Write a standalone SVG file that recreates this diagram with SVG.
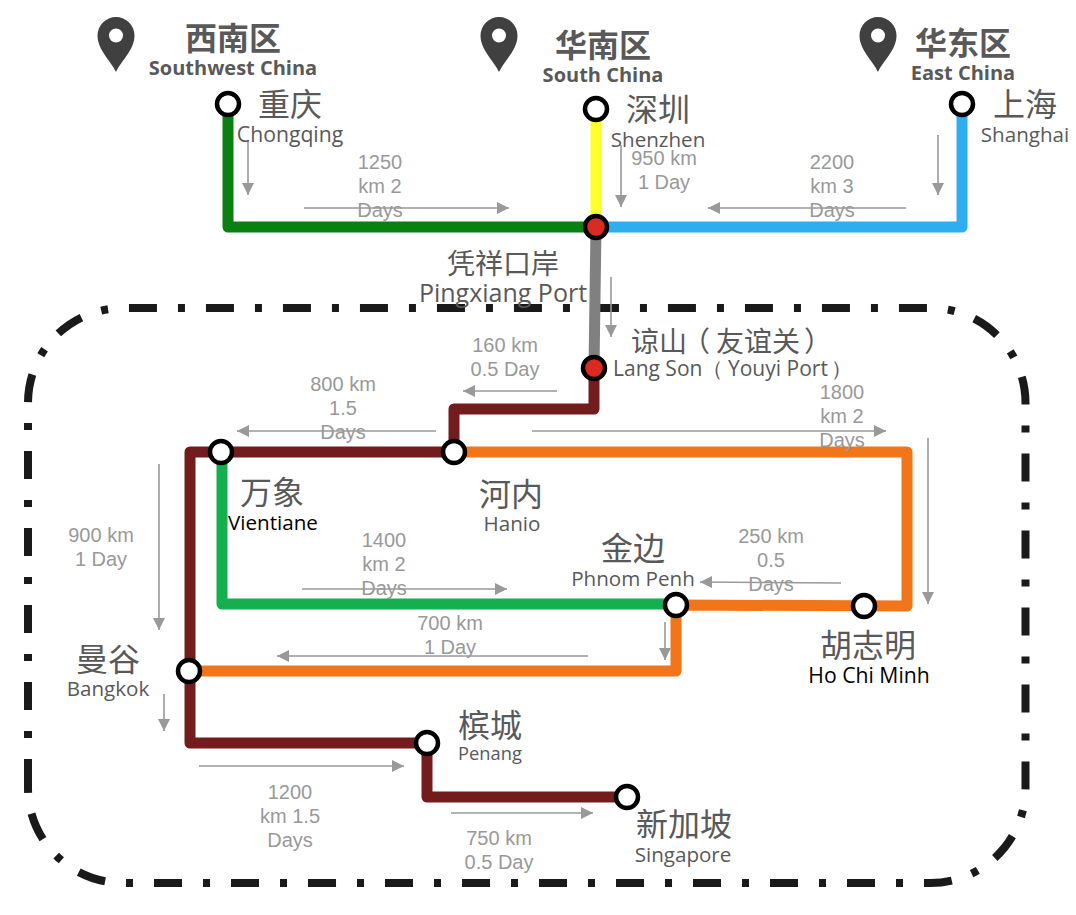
<svg xmlns="http://www.w3.org/2000/svg" width="1076" height="915" viewBox="0 0 1076 915">
<style>
text{text-anchor:middle}
.cn{font-family:"Noto Sans CJK SC","Noto Sans",sans-serif;font-size:32px;fill:#595959}
.c28{font-size:28px}
.h{font-family:"Noto Sans CJK SC","Noto Sans",sans-serif;font-size:32px;font-weight:700;fill:#595959}
.hs{font-family:"Open Sans","Noto Sans",sans-serif;font-size:20px;font-weight:700;fill:#595959}
.en{font-family:"Open Sans","Noto Sans",sans-serif;font-size:20.600px;fill:#595959}
.k{fill:#000}
.d{font-family:"Liberation Sans",Arial,sans-serif;font-size:20px;fill:#999}
.l{fill:none;stroke-width:11;stroke-linejoin:round;stroke-linecap:round}
.a{fill:none;stroke:#999;stroke-width:1.6;marker-end:url(#ah)}
.n{fill:#fff;stroke:#000;stroke-width:4.5}
.r{fill:#dc2a22;stroke:#000;stroke-width:4.5}
.pin{fill:#404040;fill-rule:evenodd}
</style>
<defs>
<marker id="ah" markerUnits="userSpaceOnUse" markerWidth="13" markerHeight="13" refX="12" refY="6" orient="auto"><path d="M0 0L12 6L0 12Z" fill="#999"/></marker>
<path id="p" class="pin" d="M0 55C-5 44-18.500 33-18.500 18.500A18.500 18.500 0 0 1 18.500 18.500C18.500 33 5 44 0 55ZM0 11.500A7 7 0 1 0 0 25.500A7 7 0 1 0 0 11.500Z"/>
</defs>
<path id="boundary" d="M28 786V788A95 95 0 0 0 123 883H930.500A95 95 0 0 0 1025.500 788V403A95 95 0 0 0 930.500 308H123A95 95 0 0 0 28 403V788" fill="none" stroke="#1a1a1a" stroke-width="8" stroke-dasharray="7 21 28 21"/>
<g id="connectors">
<path class="l" stroke="#0a7f12" d="M228 110V227H596"/>
<path class="l" stroke="#ffff29" d="M596 115V227"/>
<path class="l" stroke="#2faeef" d="M962 110V227H596"/>
<path class="l" stroke="#808080" stroke-linecap="butt" d="M596 227L594 368"/>
<path class="l" stroke="#721c1e" d="M594 368V409H454V452H190V743H427V797H627"/>
<path class="l" stroke="#f2751a" d="M454 452H907V606L676 605V671H189"/>
<path class="l" stroke="#14b050" d="M222 452V604H676"/>
<path class="a" d="M248 140V195"/>
<path class="a" d="M304 208H509"/>
<path class="a" d="M621 145V207"/>
<path class="a" d="M906 208H708"/>
<path class="a" d="M938 135V195"/>
<path class="a" d="M611 277V337"/>
<path class="a" d="M557 391H463"/>
<path class="a" d="M436 431H237"/>
<path class="a" d="M532 431H886"/>
<path class="a" d="M928 438V604"/>
<path class="a" d="M159 464V630"/>
<path class="a" d="M302 589H507"/>
<path class="a" d="M841 583L700 582"/>
<path class="a" d="M665 622V660"/>
<path class="a" d="M588 656H277"/>
<path class="a" d="M164 694V731"/>
<path class="a" d="M199 766H404"/>
<path class="a" d="M451 813H593"/>
</g>
<g id="southwest"><use href="#p" x="116" y="17"/><text class="h" x="233" y="50">西南区</text><text class="hs" x="233" y="75">Southwest China</text></g>
<g id="south"><use href="#p" x="499" y="17"/><text class="h" x="603" y="57">华南区</text><text class="hs" x="603" y="82">South China</text></g>
<g id="east"><use href="#p" x="878" y="17"/><text class="h" x="963" y="55">华东区</text><text class="hs" x="963" y="80">East China</text></g>
<g id="chongqing"><circle class="n" cx="228" cy="104" r="11"/><text class="cn" x="290" y="116">重庆</text><text class="en" x="290" y="142" style="font-size:21.200px">Chongqing</text></g>
<g id="shenzhen"><circle class="n" cx="596" cy="109" r="11"/><text class="cn" x="658" y="121">深圳</text><text class="en" x="658" y="147">Shenzhen</text></g>
<g id="shanghai"><circle class="n" cx="962" cy="104" r="11"/><text class="cn" x="1025" y="116">上海</text><text class="en" x="1025" y="142">Shanghai</text></g>
<g id="pingxiang"><circle class="r" cx="596" cy="227" r="11"/><text class="cn c28" x="503" y="274">凭祥口岸</text><text class="en" x="503" y="302" style="font-size:25px">Pingxiang Port</text></g>
<g id="langson"><circle class="r" cx="594" cy="368" r="11"/><text class="cn c28" style="text-anchor:start" x="631 659 682 716 744 772 804" y="352">谅山（友谊关）</text><text class="en" style="text-anchor:start;font-size:21px" y="376"><tspan x="613">Lang Son</tspan><tspan x="702">（</tspan><tspan x="728">Youyi Port</tspan><tspan x="831">）</tspan></text></g>
<g id="hanoi"><circle class="n" cx="454" cy="452" r="11"/><text class="cn" x="511" y="506">河内</text><text class="en" x="512" y="531">Hanio</text></g>
<g id="vientiane"><circle class="n" cx="221" cy="452" r="11"/><text class="cn" x="272" y="504">万象</text><text class="en k" x="273" y="530">Vientiane</text></g>
<g id="phnompenh"><circle class="n" cx="676" cy="605" r="11"/><text class="cn" x="633" y="560">金边</text><text class="en" x="633" y="586">Phnom Penh</text></g>
<g id="hochiminh"><circle class="n" cx="864" cy="606" r="11"/><text class="cn" x="868" y="657">胡志明</text><text class="en k" x="869" y="683" style="font-size:21.200px">Ho Chi Minh</text></g>
<g id="bangkok"><circle class="n" cx="189" cy="671" r="11"/><text class="cn" x="108" y="671">曼谷</text><text class="en" x="108" y="696">Bangkok</text></g>
<g id="penang"><circle class="n" cx="427" cy="743" r="11"/><text class="cn" x="490" y="737">槟城</text><text class="en" x="490" y="760" style="font-size:18.300px">Penang</text></g>
<g id="singapore"><circle class="n" cx="627" cy="797" r="11"/><text class="cn" x="684" y="836">新加坡</text><text class="en" x="683" y="862">Singapore</text></g>
<g id="distances">
<text class="d" x="380" y="169">1250</text><text class="d" x="380" y="193">km 2</text><text class="d" x="380" y="217">Days</text>
<text class="d" x="664" y="165">950 km</text><text class="d" x="664" y="189">1 Day</text>
<text class="d" x="832" y="169">2200</text><text class="d" x="832" y="193">km 3</text><text class="d" x="832" y="217">Days</text>
<text class="d" x="505" y="352">160 km</text><text class="d" x="505" y="376">0.5 Day</text>
<text class="d" x="343" y="391">800 km</text><text class="d" x="343" y="415">1.5</text><text class="d" x="343" y="439">Days</text>
<text class="d" x="842" y="399">1800</text><text class="d" x="842" y="423">km 2</text><text class="d" x="842" y="447">Days</text>
<text class="d" x="101" y="542">900 km</text><text class="d" x="101" y="566">1 Day</text>
<text class="d" x="384" y="547">1400</text><text class="d" x="384" y="571">km 2</text><text class="d" x="384" y="595">Days</text>
<text class="d" x="771" y="543">250 km</text><text class="d" x="771" y="567">0.5</text><text class="d" x="771" y="591">Days</text>
<text class="d" x="450" y="630">700 km</text><text class="d" x="450" y="654">1 Day</text>
<text class="d" x="290" y="799">1200</text><text class="d" x="290" y="823">km 1.5</text><text class="d" x="290" y="847">Days</text>
<text class="d" x="499" y="845">750 km</text><text class="d" x="499" y="869">0.5 Day</text>
</g>
</svg>
